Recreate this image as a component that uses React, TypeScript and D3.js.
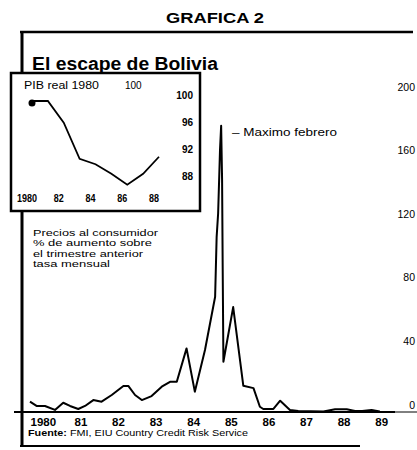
import React from "react";
import * as d3 from "d3";

// Precios al consumidor: fractional year, monthly rate (%)
const periods = [
  1980.146, 1980.32, 1980.545, 1980.81, 1981.03, 1981.21, 1981.43, 1981.61, 1981.83,
  1982.05, 1982.32, 1982.63, 1982.76, 1982.94, 1983.12, 1983.38, 1983.65, 1983.87,
  1984.05, 1984.31, 1984.53, 1984.8, 1985.07, 1985.11, 1985.15, 1985.2, 1985.23,
  1985.255, 1985.27, 1985.29, 1985.55, 1985.82, 1986.09, 1986.26, 1986.35, 1986.62,
  1986.8, 1987.06, 1987.28, 1987.95, 1988.26, 1988.57, 1988.79, 1988.98, 1989.23, 1989.45,
];
const inflation = [
  6.5, 3.8, 3.8, 1.3, 5.8, 3.8, 1.9, 3.8, 7.5,
  6.5, 10.7, 16.4, 16.4, 10.7, 7.5, 10, 15.9, 19,
  19, 40, 12.8, 39, 72.5, 110, 125, 165, 180,
  146, 94, 31.6, 66, 16.5, 15, 3.3, 1.9, 1.9,
  7.1, 1.3, 0.6, 0.3, 1.7, 1.7, 0.6, 0.6, 1.3, 0.3,
];
const yearTicks = [1980, 1981, 1982, 1983, 1984, 1985, 1986, 1987, 1988, 1989];
const yearLabels = ["1980", "81", "82", "83", "84", "85", "86", "87", "88", "89"];
const valueTicks = [0, 40, 80, 120, 160, 200];

// PIB real (1980 = 100)
const gdpYears = [1980, 1981, 1982, 1983, 1984, 1985, 1986, 1987, 1988];
const gdpIndex = [100, 100, 96.8, 91.5, 90.7, 89.3, 87.7, 89.3, 91.8];
const gdpTicks = [100, 96, 92, 88];
const gdpYearTicks = [1980, 1982, 1984, 1986, 1988];
const gdpYearLabels = ["1980", "82", "84", "86", "88"];

const noteLines = [
  "Precios al consumidor",
  "% de aumento sobre",
  "el trimestre anterior",
  "tasa mensual",
];
const noteWidths = [125, 119, 110, 77];

const FONT = "'Liberation Sans', Arial, Helvetica, sans-serif";

export default function App() {
  const W = 417;
  const H = 450;

  const x = d3.scaleLinear().domain([1980, 1990]).range([24.5, 400.5]);
  const y = d3.scaleLinear().domain([0, 200]).range([412, 94]);
  const line = d3
    .line<number>()
    .x((_, i) => x(periods[i]))
    .y((d) => y(d))
    .curve(d3.curveLinear);

  const ix = d3.scaleLinear().domain([1980, 1988]).range([32, 159]);
  const iy = d3.scaleLinear().domain([88, 100]).range([182.6, 101]);
  const iline = d3
    .line<number>()
    .x((_, i) => ix(gdpYears[i]))
    .y((d) => iy(d));

  return (
    <svg
      width={W}
      height={H}
      viewBox={`0 0 ${W} ${H}`}
      style={{ position: "absolute", left: 0, top: 0, background: "#fff" }}
      fontFamily={FONT}
    >
      <rect x={0} y={0} width={W} height={H} fill="#fff" />
      <text x={215} y={23} fontSize={15} fontWeight="bold" textAnchor="middle" textLength={98} lengthAdjust="spacingAndGlyphs">
        GRAFICA 2
      </text>

      {/* frame */}
      <line x1={20} x2={413} y1={32} y2={32} stroke="#000" strokeWidth={2.5} />
      <line x1={22} x2={22} y1={31} y2={447} stroke="#000" strokeWidth={3} />
      <line x1={20} x2={360} y1={446} y2={446} stroke="#000" strokeWidth={2} />

      <text x={32} y={70} fontSize={18} fontWeight="bold" textLength={186} lengthAdjust="spacingAndGlyphs">
        El escape de Bolivia
      </text>

      {/* baseline */}
      <line x1={14} x2={395} y1={y(0)} y2={y(0)} stroke="#000" strokeWidth={2} />
      <line x1={395} x2={417} y1={y(0)} y2={y(0)} stroke="#000" strokeWidth={1} />

      {/* main series */}
      <path d={line(inflation) || ""} fill="none" stroke="#000" strokeWidth={2} strokeLinejoin="round" />

      {/* right axis labels */}
      {valueTicks.map((v) => (
        <text key={v} x={415} y={y(v) - 7} dy="0.35em" fontSize={10.5} textAnchor="end">
          {v}
        </text>
      ))}

      {/* x labels */}
      {yearTicks.map((t, i) => (
        <text key={t} x={x(t + 0.5)} y={426} fontSize={11.5} fontWeight="bold" textAnchor="middle">
          {yearLabels[i]}
        </text>
      ))}

      <text x={28} y={436} fontSize={8.5} textLength={220} lengthAdjust="spacingAndGlyphs">
        <tspan fontWeight="bold">Fuente:</tspan> FMI, EIU Country Credit Risk Service
      </text>

      {/* annotation */}
      <text x={232} y={135.5} fontSize={10} textLength={105} lengthAdjust="spacingAndGlyphs">
        –   Maximo  febrero
      </text>

      {noteLines.map((s, i) => (
        <text key={i} x={33} y={236 + i * 10.4} fontSize={9} textLength={noteWidths[i]} lengthAdjust="spacingAndGlyphs">
          {s}
        </text>
      ))}

      {/* inset */}
      <rect x={11} y={73} width={189} height={138} fill="#fff" stroke="#000" strokeWidth={2.5} />
      <text x={24} y={89} fontSize={10} textLength={75} lengthAdjust="spacingAndGlyphs">
        PIB real 1980
      </text>
      <text x={125} y={89} fontSize={10}>
        100
      </text>
      {gdpTicks.map((v) => (
        <text key={v} x={193} y={iy(v) - 6} dy="0.35em" fontSize={10} fontWeight="bold" textAnchor="end">
          {v}
        </text>
      ))}
      {gdpYearTicks.map((t, i) => (
        <text
          key={t}
          x={ix(t) - 5}
          y={202}
          fontSize={10}
          fontWeight="bold"
          textAnchor="middle"
          textLength={gdpYearLabels[i].length * 5}
          lengthAdjust="spacingAndGlyphs"
        >
          {gdpYearLabels[i]}
        </text>
      ))}
      <path d={iline(gdpIndex) || ""} fill="none" stroke="#000" strokeWidth={1.8} />
      <circle cx={ix(gdpYears[0])} cy={iy(gdpIndex[0]) + 2} r={3.5} fill="#000" />
    </svg>
  );
}
